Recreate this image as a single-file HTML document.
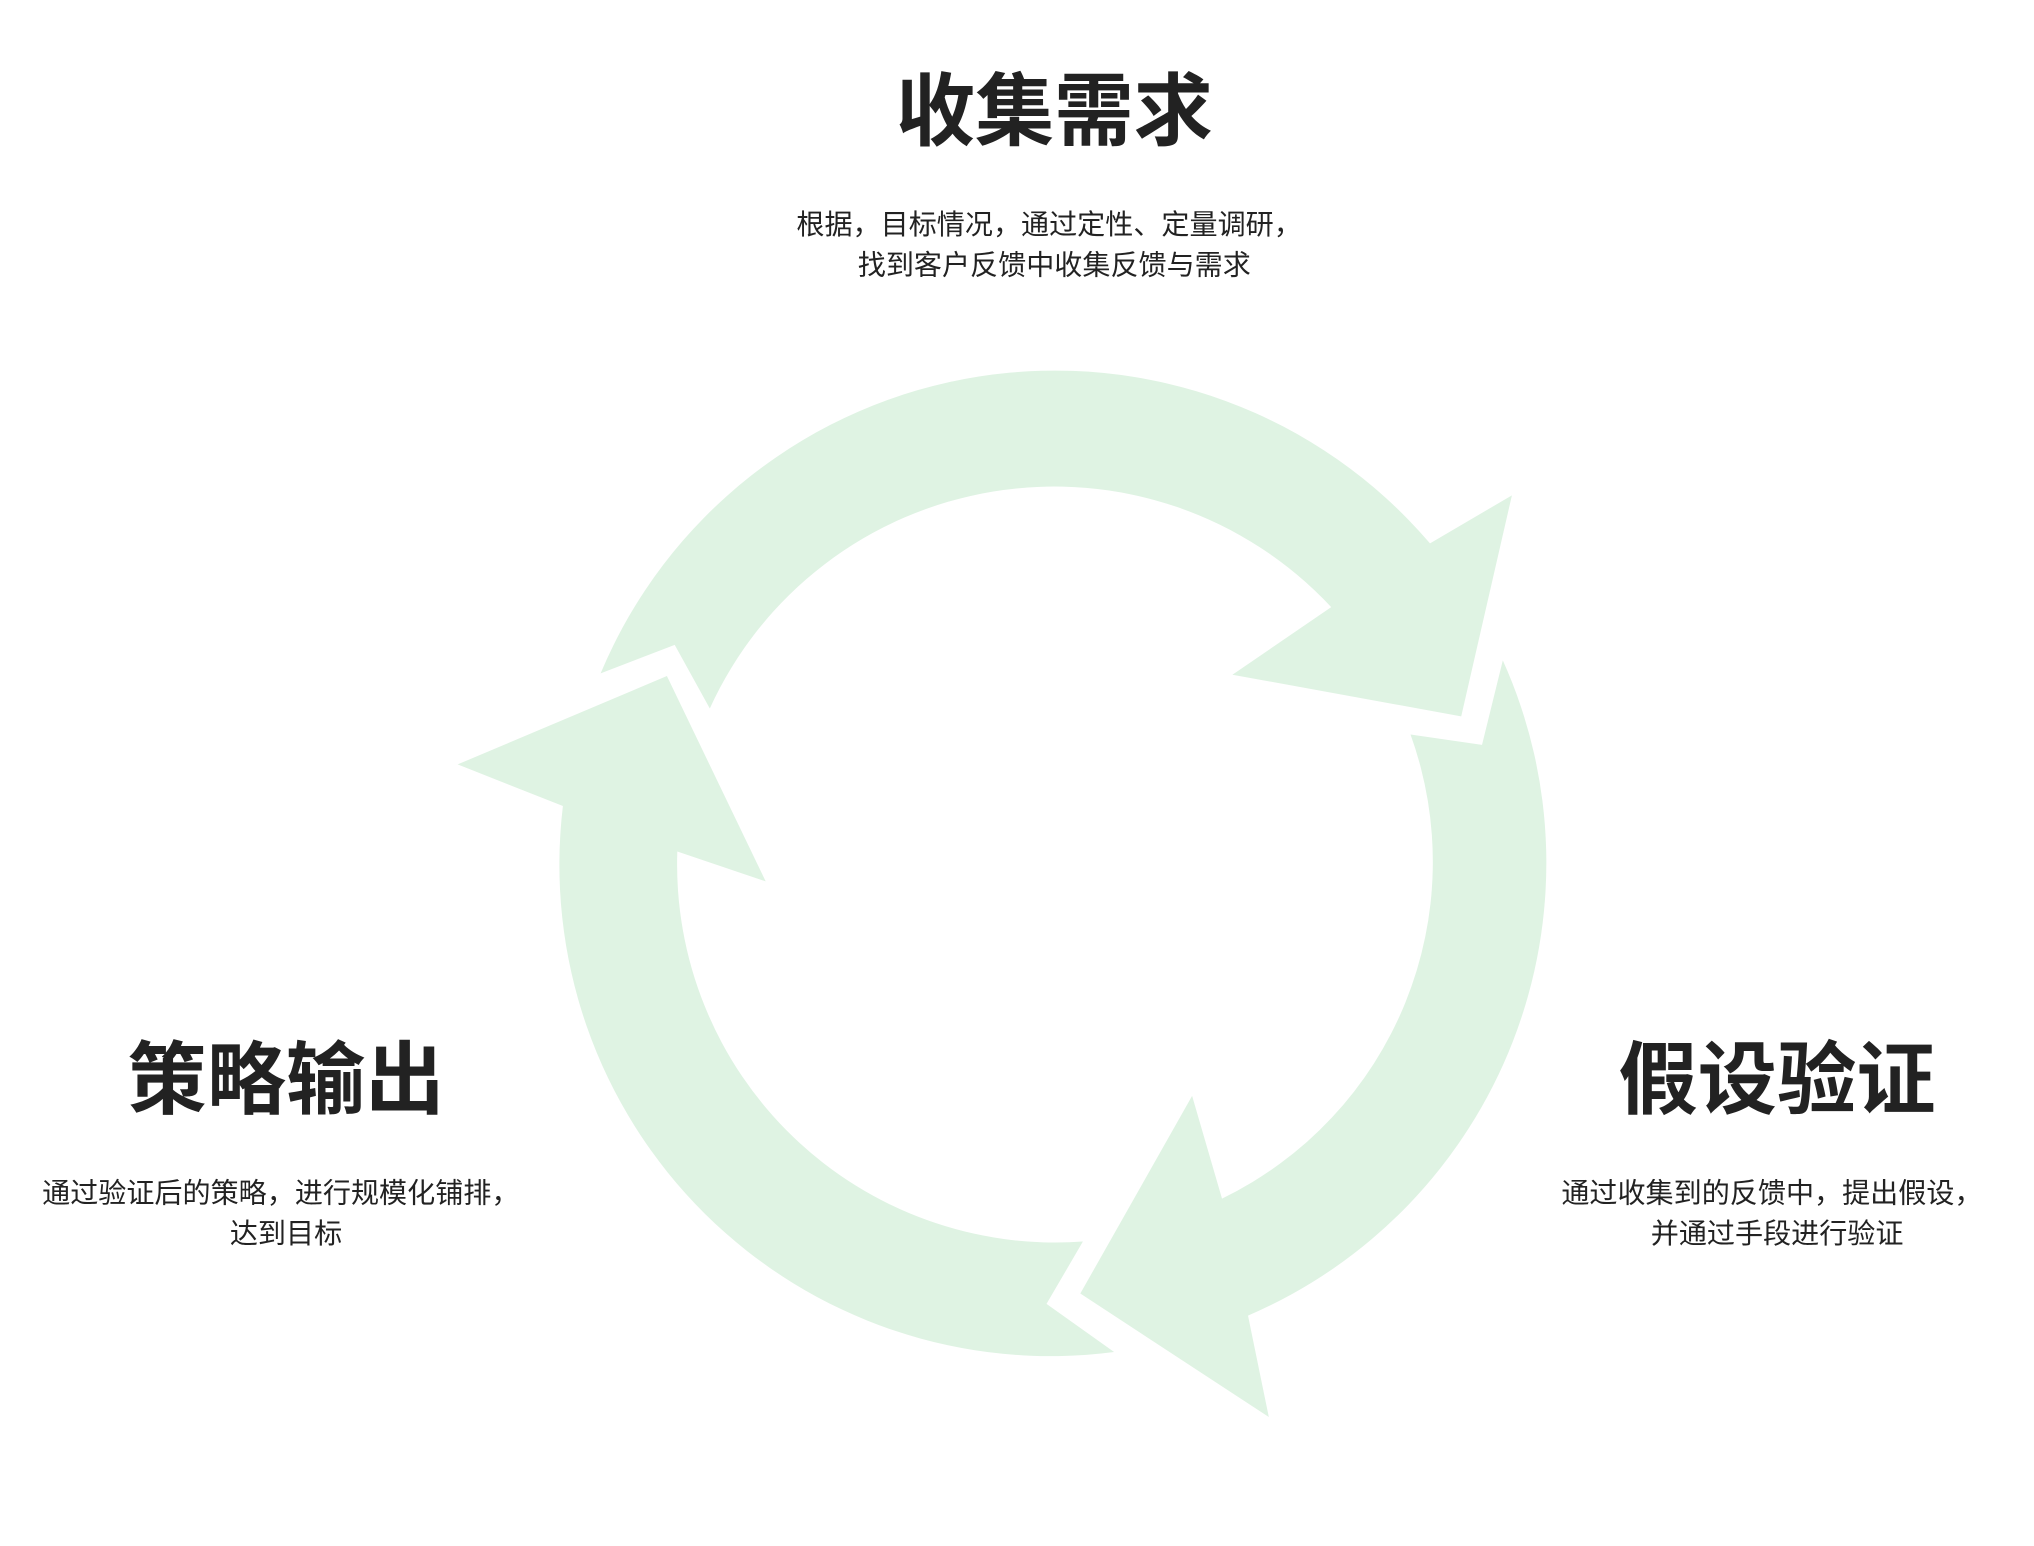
<!DOCTYPE html>
<html><head><meta charset="utf-8"><style>
html,body{margin:0;padding:0;background:#fff;}
svg{display:block}
text{font-family:"Liberation Sans","Noto Sans CJK SC",sans-serif;fill:#222;}
</style></head><body>
<svg width="2034" height="1546" viewBox="0 0 1564.6 1189.2" xmlns="http://www.w3.org/2000/svg">
<g fill="#dff3e3">
<path d="M462,518 A379,379 0 0 1 1100,418 L1163,381 L1124,551 L948,519 L1024,467 A291,291 0 0 0 546,545 L519,496 Z"/>
<path d="M1156,508 A379,379 0 0 1 960,1012 L976,1090 L831,995 L917,843 L940,922 A288,288 0 0 0 1085,565 L1140,573 Z"/>
<path d="M857,1040 A378,378 0 0 1 433,620 L352,588 L513,520 L589,678 L521,655 A291,291 0 0 0 833,955 L805,1003 Z"/>
</g>
<g text-anchor="middle">
<text x="811" y="107" font-size="61" font-weight="bold">收集需求</text>
<text x="807" y="180" font-size="21.6">根据，目标情况，通过定性、定量调研，</text>
<text x="811" y="211" font-size="21.6">找到客户反馈中收集反馈与需求</text>
<text x="220" y="852" font-size="61" font-weight="bold">策略输出</text>
<text x="216" y="925" font-size="21.6">通过验证后的策略，进行规模化铺排，</text>
<text x="220" y="956" font-size="21.6">达到目标</text>
<text x="1367" y="852" font-size="61" font-weight="bold">假设验证</text>
<text x="1363" y="925" font-size="21.6">通过收集到的反馈中，提出假设，</text>
<text x="1367" y="956" font-size="21.6">并通过手段进行验证</text>
</g>
</svg>
</body></html>
